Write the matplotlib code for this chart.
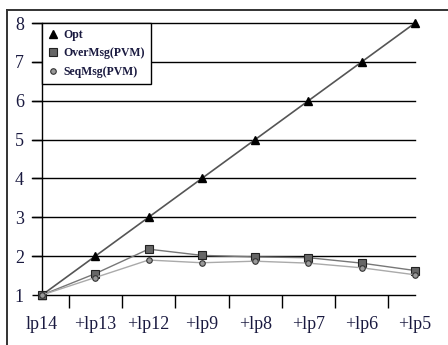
import numpy as np
import matplotlib.pyplot as plt
from matplotlib.lines import Line2D

labels = ['lp14', '+lp13', '+lp12', '+lp9', '+lp8', '+lp7', '+lp6', '+lp5']
opt = [1, 2, 3, 4, 5, 6, 7, 8]
over_msg = [1, 1.55, 2.18, 2.02, 1.98, 1.96, 1.82, 1.63]
seq_msg = [1, 1.45, 1.90, 1.83, 1.87, 1.82, 1.70, 1.52]

plt.rcParams['font.family'] = ['Liberation Serif', 'DejaVu Serif']
txt = '#1a1a40'

fig = plt.figure(figsize=(4.48, 3.45), dpi=100)
# outer frame (left and top edges)
fig.add_artist(Line2D([7/448, 7/448], [0, 1 - 10/345], color='#333333', lw=1.4))
fig.add_artist(Line2D([7/448, 1], [1 - 10/345, 1 - 10/345], color='#333333', lw=1.4))

ax = fig.add_axes([42/448, 1 - 295/345, (415 - 42)/448, (295 - 23)/345])
x = np.arange(len(labels))

for y in range(2, 9):
    ax.plot([-0.19, 7], [y, y], color='black', lw=1.0, clip_on=False, zorder=1)

ax.plot(x, opt, color='#555555', lw=1.2, marker='^', ms=5.5, mfc='black', mec='black',
        clip_on=False, zorder=3, label='Opt')
ax.plot(x, over_msg, color='#777777', lw=1.0, marker='s', ms=6, mfc='#666666', mec='#222222',
        mew=0.8, clip_on=False, zorder=4, label='OverMsg(PVM)')
ax.plot(x, seq_msg, color='#aaaaaa', lw=1.0, marker='o', ms=4, mfc='#999999', mec='#333333',
        mew=0.8, clip_on=False, zorder=5, label='SeqMsg(PVM)')

ax.set_xlim(0, 7)
ax.set_ylim(1, 8)
for s in ['top', 'right']:
    ax.spines[s].set_visible(False)
ax.spines['left'].set_linewidth(1.0)
ax.spines['bottom'].set_linewidth(1.0)

ax.set_yticks(range(1, 9))
ax.tick_params(axis='y', length=7, width=1.0, pad=6, labelsize=13, labelcolor=txt)
ax.set_xticks(x)
ax.set_xticklabels(labels)
ax.tick_params(axis='x', length=0, pad=15, labelsize=13, labelcolor=txt)
ax.set_xticks(x[:-1] + 0.5, minor=True)
ax.tick_params(axis='x', which='minor', length=9, width=1.0, direction='out')

leg = ax.legend(loc='upper left', bbox_to_anchor=(0, 1), borderaxespad=0, fancybox=False,
                edgecolor='black', framealpha=1, handlelength=0.8, handletextpad=0.5,
                labelspacing=0.55, borderpad=0.5, prop={'size': 8.5, 'weight': 'bold'})
leg.get_frame().set_linewidth(1.0)
for h in leg.get_lines():
    h.set_linestyle('none')
for t in leg.get_texts():
    t.set_color(txt)

fig.savefig('out.png', dpi=100)
